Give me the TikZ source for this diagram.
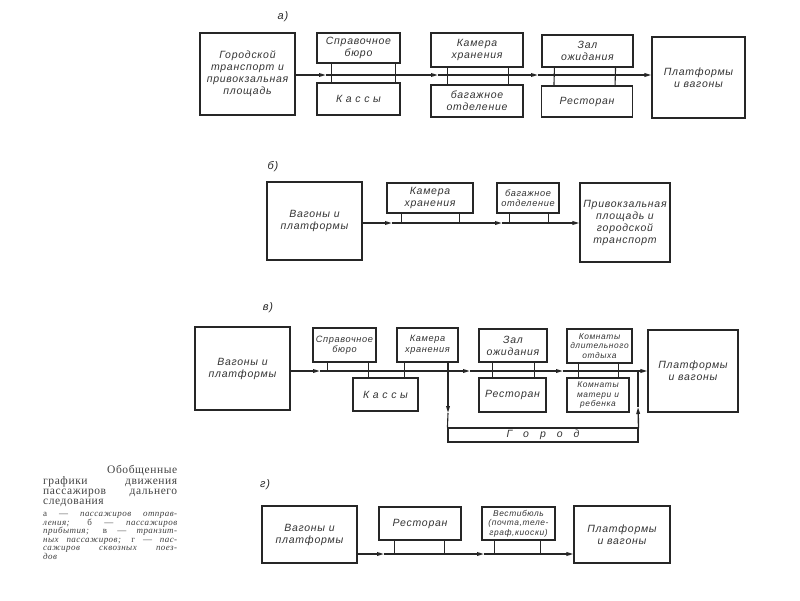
\documentclass[tikz,border=0pt]{standalone}
\usepackage{fontspec}
\setmainfont{Liberation Serif}
\newfontfamily\schemefont[LetterSpace=7]{Liberation Sans}
\newfontfamily\capfont[LetterSpace=5]{Liberation Serif}
\usetikzlibrary{arrows.meta}

\tikzset{
	box/.style = {draw, line width=1.1pt, inner sep=1pt, align=center, text=black!80,
		font=\schemefont\itshape\fontsize{10.5}{12}\selectfont},
	smallbox/.style = {box, font=\schemefont\itshape\fontsize{9.2}{10.5}\selectfont},
	tinybox/.style = {box, font=\schemefont\itshape\fontsize{8.4}{9.6}\selectfont},
	flow/.style = {line width=1.4pt, -{Triangle[length=7pt,width=3.6pt]}},
	link/.style = {line width=1.4pt},
	tie/.style = {line width=1.1pt},
	tag/.style = {font=\schemefont\itshape\fontsize{11}{12}\selectfont, text=black!85}
}

\begin{document}
\begin{tikzpicture}[x=1pt, y=-1pt, draw=black!85]
	\useasboundingbox (0,0) rectangle (800,600);

	% a) departure
	\node[tag] (la) at (283,17) {а)};
	\node[box, minimum width=95pt, minimum height=82pt] (gorA) at (247.5,74) {Городской\\транспорт и\\привокзальная\\площадь};
	\node[box, minimum width=83pt, minimum height=30pt] (spravA) at (358.5,48) {Справочное\\бюро};
	\node[box, minimum width=83pt, minimum height=32pt] (kassyA) at (358.5,99) {К а с с ы};
	\node[box, minimum width=92pt, minimum height=34pt] (kamA) at (477,50) {Камера\\хранения};
	\node[box, minimum width=92pt, minimum height=32pt] (bagA) at (477,101) {багажное\\отделение};
	\node[box, minimum width=91pt, minimum height=32pt] (zalA) at (587.5,51) {Зал\\ожидания};
	\node[box, minimum width=91pt, minimum height=31pt] (restA) at (587,101.5) {Ресторан};
	\node[box, minimum width=93pt, minimum height=81pt] (platA) at (698.5,77.5) {Платформы\\и вагоны};
	\coordinate (a1) at (326,75);
	\coordinate (a2) at (438,75);
	\coordinate (a3) at (538,75);
	\draw[flow] (gorA.east |- a1) -- (a1);
	\draw[flow] (a1) -- (a2);
	\draw[flow] (a2) -- (a3);
	\draw[flow] (a3) -- (platA.west |- a1);
	\draw[tie] ([xshift=15pt]spravA.south west) -- ([xshift=15pt]kassyA.north west);
	\draw[tie] ([xshift=-5pt]spravA.south east) -- ([xshift=-5pt]kassyA.north east);
	\draw[tie] ([xshift=17pt]kamA.south west) -- ([xshift=17pt]bagA.north west);
	\draw[tie] ([xshift=-15pt]kamA.south east) -- ([xshift=-15pt]bagA.north east);
	\draw[tie] ([xshift=13pt]zalA.south west) -- ([xshift=13pt]restA.north west);
	\draw[tie] ([xshift=-18pt]zalA.south east) -- ([xshift=-18pt]restA.north east);

	% b) arrival
	\node[tag] (lb) at (273,167) {б)};
	\node[box, minimum width=95pt, minimum height=78pt] (vagB) at (314.5,221) {Вагоны и\\платформы};
	\node[box, minimum width=86pt, minimum height=30pt] (kamB) at (430,198) {Камера\\хранения};
	\node[smallbox, minimum width=62pt, minimum height=30pt] (bagB) at (528,198) {багажное\\отделение};
	\node[box, minimum width=90pt, minimum height=79pt] (privB) at (625,222.5) {Привокзальная\\площадь и\\городской\\транспорт};
	\coordinate (b1) at (392,223);
	\coordinate (b2) at (502,223);
	\draw[flow] (vagB.east |- b1) -- (b1);
	\draw[flow] (b1) -- (b2);
	\draw[flow] (b2) -- (privB.west |- b1);
	\draw[tie] ([xshift=15pt]kamB.south west) -- ([xshift=15pt]kamB.south west |- b1);
	\draw[tie] ([xshift=-14pt]kamB.south east) -- ([xshift=-14pt]kamB.south east |- b1);
	\draw[tie] ([xshift=13pt]bagB.south west) -- ([xshift=13pt]bagB.south west |- b1);
	\draw[tie] ([xshift=-11pt]bagB.south east) -- ([xshift=-11pt]bagB.south east |- b1);

	% c) transit
	\node[tag] (lv) at (268,308) {в)};
	\node[box, minimum width=95pt, minimum height=83pt] (vagV) at (242.5,368.5) {Вагоны и\\платформы};
	\node[smallbox, minimum width=63pt, minimum height=34pt] (spravV) at (344.5,345) {Справочное\\бюро};
	\node[box, minimum width=65pt, minimum height=33pt] (kassyV) at (385.5,394.5) {К а с с ы};
	\node[smallbox, minimum width=61pt, minimum height=34pt] (kamV) at (427.5,345) {Камера\\хранения};
	\node[box, minimum width=68pt, minimum height=33pt] (zalV) at (513,345.5) {Зал\\ожидания};
	\node[box, minimum width=67pt, minimum height=34pt] (restV) at (512.5,395) {Ресторан};
	\node[tinybox, minimum width=65pt, minimum height=34pt] (komD) at (599.5,346) {Комнаты\\длительного\\отдыха};
	\node[tinybox, minimum width=62pt, minimum height=34pt] (komM) at (598,395) {Комнаты\\матери и\\ребенка};
	\node[box, minimum width=90pt, minimum height=82pt] (platV) at (693,371) {Платформы\\и вагоны};
	\node[box, minimum width=190pt, minimum height=14pt, inner sep=0pt] (gorodV) at (543,435) {Г\ \ \ о\ \ \ р\ \ \ о\ \ \ д};
	\coordinate (v1) at (320,371);
	\coordinate (v2) at (470,371);
	\coordinate (v3) at (563,371);
	\coordinate (v4) at (448,413);
	\coordinate (v5) at (638,407);
	\draw[flow] (vagV.east |- v1) -- (v1);
	\draw[flow] (v1) -- (v2);
	\draw[flow] (v2) -- (v3);
	\draw[flow] (v3) -- (platV.west |- v1);
	\draw[tie] ([xshift=15pt]spravV.south west) -- ([xshift=15pt]spravV.south west |- v1);
	\draw[tie] ([xshift=-8pt]spravV.south east) -- ([xshift=-8pt]spravV.south east |- kassyV.north);
	\draw[tie] ([xshift=8pt]kamV.south west) -- ([xshift=8pt]kamV.south west |- kassyV.north);
	\draw[flow] (kamV.south -| v4) -- (v4);
	\draw[tie] (v4) -- (gorodV.north west);
	\draw[flow] (gorodV.north east) -- (v5);
	\draw[link] (v5) -- (v5 |- v1);
	\draw[tie] ([xshift=14pt]zalV.south west) -- ([xshift=14pt]restV.north west);
	\draw[tie] ([xshift=-13pt]zalV.south east) -- ([xshift=-13pt]zalV.south east |- restV.north);
	\draw[tie] ([xshift=12pt]komD.south west) -- ([xshift=12pt]komM.north west);
	\draw[tie] ([xshift=-14pt]komD.south east) -- ([xshift=-14pt]komD.south east |- komM.north);

	% d) through trains
	\node[tag] (lg) at (265,485) {г)};
	\node[box, minimum width=95pt, minimum height=57pt] (vagG) at (309.5,534.5) {Вагоны и\\платформы};
	\node[box, minimum width=82pt, minimum height=33pt] (restG) at (420,523.5) {Ресторан};
	\node[tinybox, minimum width=73pt, minimum height=33pt] (vestG) at (518.5,523.5) {Вестибюль\\(почта,теле-\\граф,киоски)};
	\node[box, minimum width=96pt, minimum height=57pt] (platG) at (622,534.5) {Платформы\\и вагоны};
	\coordinate (g1) at (384,554);
	\coordinate (g2) at (484,554);
	\draw[flow] (vagG.east |- g1) -- (g1);
	\draw[flow] (g1) -- (g2);
	\draw[flow] (g2) -- (platG.west |- g1);
	\draw[tie] ([xshift=16pt]restG.south west) -- ([xshift=16pt]restG.south west |- g1);
	\draw[tie] ([xshift=-17pt]restG.south east) -- ([xshift=-17pt]restG.south east |- g1);
	\draw[tie] ([xshift=13pt]vestG.south west) -- ([xshift=13pt]vestG.south west |- g1);
	\draw[tie] ([xshift=-15pt]vestG.south east) -- ([xshift=-15pt]vestG.south east |- g1);

	% caption
	\node[anchor=north west, inner sep=0pt, align=left, text=black!75,
		font=\capfont\fontsize{11.5}{10}\selectfont] (title) at (43,465)
		{\makebox[134pt][r]{Обобщенные}\\
		 \makebox[134pt][s]{графики движения}\\
		 \makebox[134pt][s]{пассажиров дальнего}\\
		 \makebox[134pt][l]{следования}};
	\node[anchor=north west, inner sep=0pt, align=left, text=black!75,
		font=\capfont\fontsize{9}{8.6}\selectfont\itshape] (legend) at (43,512)
		{\makebox[134pt][s]{\upshape а — \itshape пассажиров отправ-}\\
		 \makebox[134pt][s]{ления; \upshape б — \itshape пассажиров}\\
		 \makebox[134pt][s]{прибытия; \upshape в — \itshape транзит-}\\
		 \makebox[134pt][s]{ных пассажиров; \upshape г — \itshape пас-}\\
		 \makebox[134pt][s]{сажиров сквозных поез-}\\
		 \makebox[134pt][l]{дов}};
\end{tikzpicture}
\end{document}
